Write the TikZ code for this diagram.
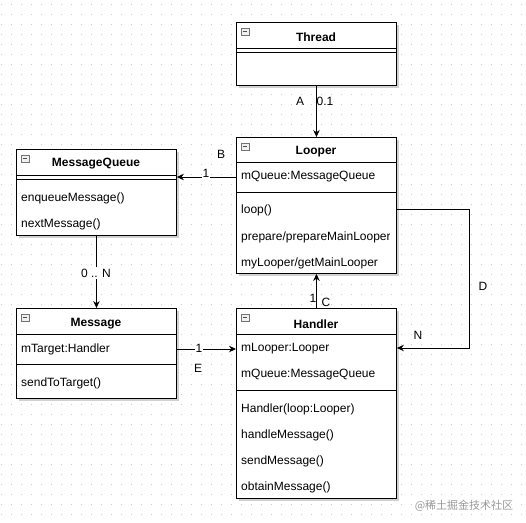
\documentclass[tikz,border=0pt]{standalone}
\usepackage{fontspec}
\setmainfont{Liberation Sans}
\newfontfamily\cjk{Noto Sans CJK SC}
\usetikzlibrary{arrows.meta,shadows}
\newcommand\clsicon[2]{%
  \draw[black!55, fill=black!6, line width=0.5pt] (#1,#2) rectangle ++(8,7);
  \draw[black!70, line width=0.7pt] (#1+2,#2+3.5) -- ++(4,0);}
\begin{document}
\begin{tikzpicture}[x=1pt,y=-1pt,
  every node/.style={font=\fontsize{12}{14}\selectfont},
  clsbox/.style={draw, line width=0.9pt, fill=white, minimum width=160pt, inner sep=0pt,
    anchor=north west, drop shadow={shadow xshift=3pt, shadow yshift=-3pt, fill=black!18, opacity=1}},
  ttl/.style={font=\fontsize{12}{14}\selectfont\bfseries},
  field/.style={anchor=west, inner sep=0pt},
  lbl/.style={inner sep=0pt},
  sep/.style={line width=0.9pt},
  conn/.style={line width=0.9pt, -{Stealth[length=7pt,width=6.5pt]}},
]
\useasboundingbox (0,0) rectangle (526,522);
% dotted grid
\foreach \yy in {4,14,...,522}
  \draw[black!20, line width=0.7pt, dash pattern=on 0.7pt off 9.3pt] (1,\yy) -- (526,\yy);

% Thread
\node[clsbox, minimum height=63pt] (thread) at (236,22) {};
\clsicon{241}{28}
\node[ttl] (threadt) at (316,37) {Thread};
\draw[sep] (236,48) -- (396,48);
\draw[sep] (236,52) -- (396,52);

% Looper
\node[clsbox, minimum height=136pt] (looper) at (236,137) {};
\clsicon{241}{143}
\node[ttl] (loopert) at (316,152) {Looper};
\draw[sep] (236,162) -- (396,162);
\node[field] (lf1) at (241,177) {mQueue:MessageQueue};
\draw[sep] (236,192) -- (396,192);
\node[field] (lm1) at (241,210) {loop()};
\begin{scope}
\clip (236,222) rectangle (389.5,250);
\node[field] (lm2) at (241,237) {prepare/prepareMainLooper};
\end{scope}
\node[field] (lm3) at (241,263) {myLooper/getMainLooper};

% MessageQueue
\node[clsbox, minimum height=86pt] (mq) at (16,149) {};
\clsicon{21}{155}
\node[ttl] (mqt) at (96,164) {MessageQueue};
\draw[sep] (16,175) -- (176,175);
\draw[sep] (16,179) -- (176,179);
\node[field] (mqm1) at (21,198) {enqueueMessage()};
\node[field] (mqm2) at (21,224) {nextMessage()};

% Message
\node[clsbox, minimum height=90pt] (msg) at (16,308) {};
\clsicon{21}{314}
\node[ttl] (msgt) at (96,324) {Message};
\draw[sep] (16,334) -- (176,334);
\node[field] (msf1) at (21,349) {mTarget:Handler};
\draw[sep] (16,364) -- (176,364);
\node[field] (msm1) at (21,383) {sendToTarget()};

% Handler
\node[clsbox, minimum height=190pt] (handler) at (236,308) {};
\clsicon{241}{314}
\node[ttl] (handlert) at (316,324) {Handler};
\draw[sep] (236,334) -- (396,334);
\node[field] (hf1) at (241,349) {mLooper:Looper};
\node[field] (hf2) at (241,375) {mQueue:MessageQueue};
\draw[sep] (236,390) -- (396,390);
\node[field] (hm1) at (241,409) {Handler(loop:Looper)};
\node[field] (hm2) at (241,435) {handleMessage()};
\node[field] (hm3) at (241,461) {sendMessage()};
\node[field] (hm4) at (241,487) {obtainMessage()};

% connectors
\draw[conn] (thread.south) -- (looper.north);
\node[lbl] (la) at (300,101) {A};
\node[lbl] (la2) at (325,101) {0.1};

\draw[conn] (looper.west |- lf1) -- (mq.east |- lf1);
\node[lbl, fill=white, inner sep=1pt] (lb1) at (206,173) {1};
\node[lbl] (lb) at (221,154) {B};

\draw[conn] (mq.south) -- (msg.north);
\node[lbl, fill=white, inner sep=1.5pt] (ln) at (96,273) {0 .. N};

\draw[conn] (msg.east |- msf1) -- (handler.west |- msf1);
\node[lbl, fill=white, inner sep=1pt] (le1) at (199,348) {1};
\node[lbl] (le) at (198,368) {E};

\draw[conn] (handler.north) -- (looper.south);
\node[lbl] (lc1) at (313,298) {1};
\node[lbl] (lc) at (326,302) {C};

\coordinate (d1) at (469,209);
\coordinate (d2) at (469,348);
\draw[conn] (looper.east |- d1) -- (d1) -- (d2) -- (handler.east |- d2);
\node[lbl] (ld) at (483,286) {D};
\node[lbl] (ldn) at (418,335) {N};

% watermark
\node[text=black!40, font=\cjk\fontsize{11}{13}\selectfont, inner sep=0pt] (wm) at (464,506) {@稀土掘金技术社区};
\end{tikzpicture}
\end{document}
